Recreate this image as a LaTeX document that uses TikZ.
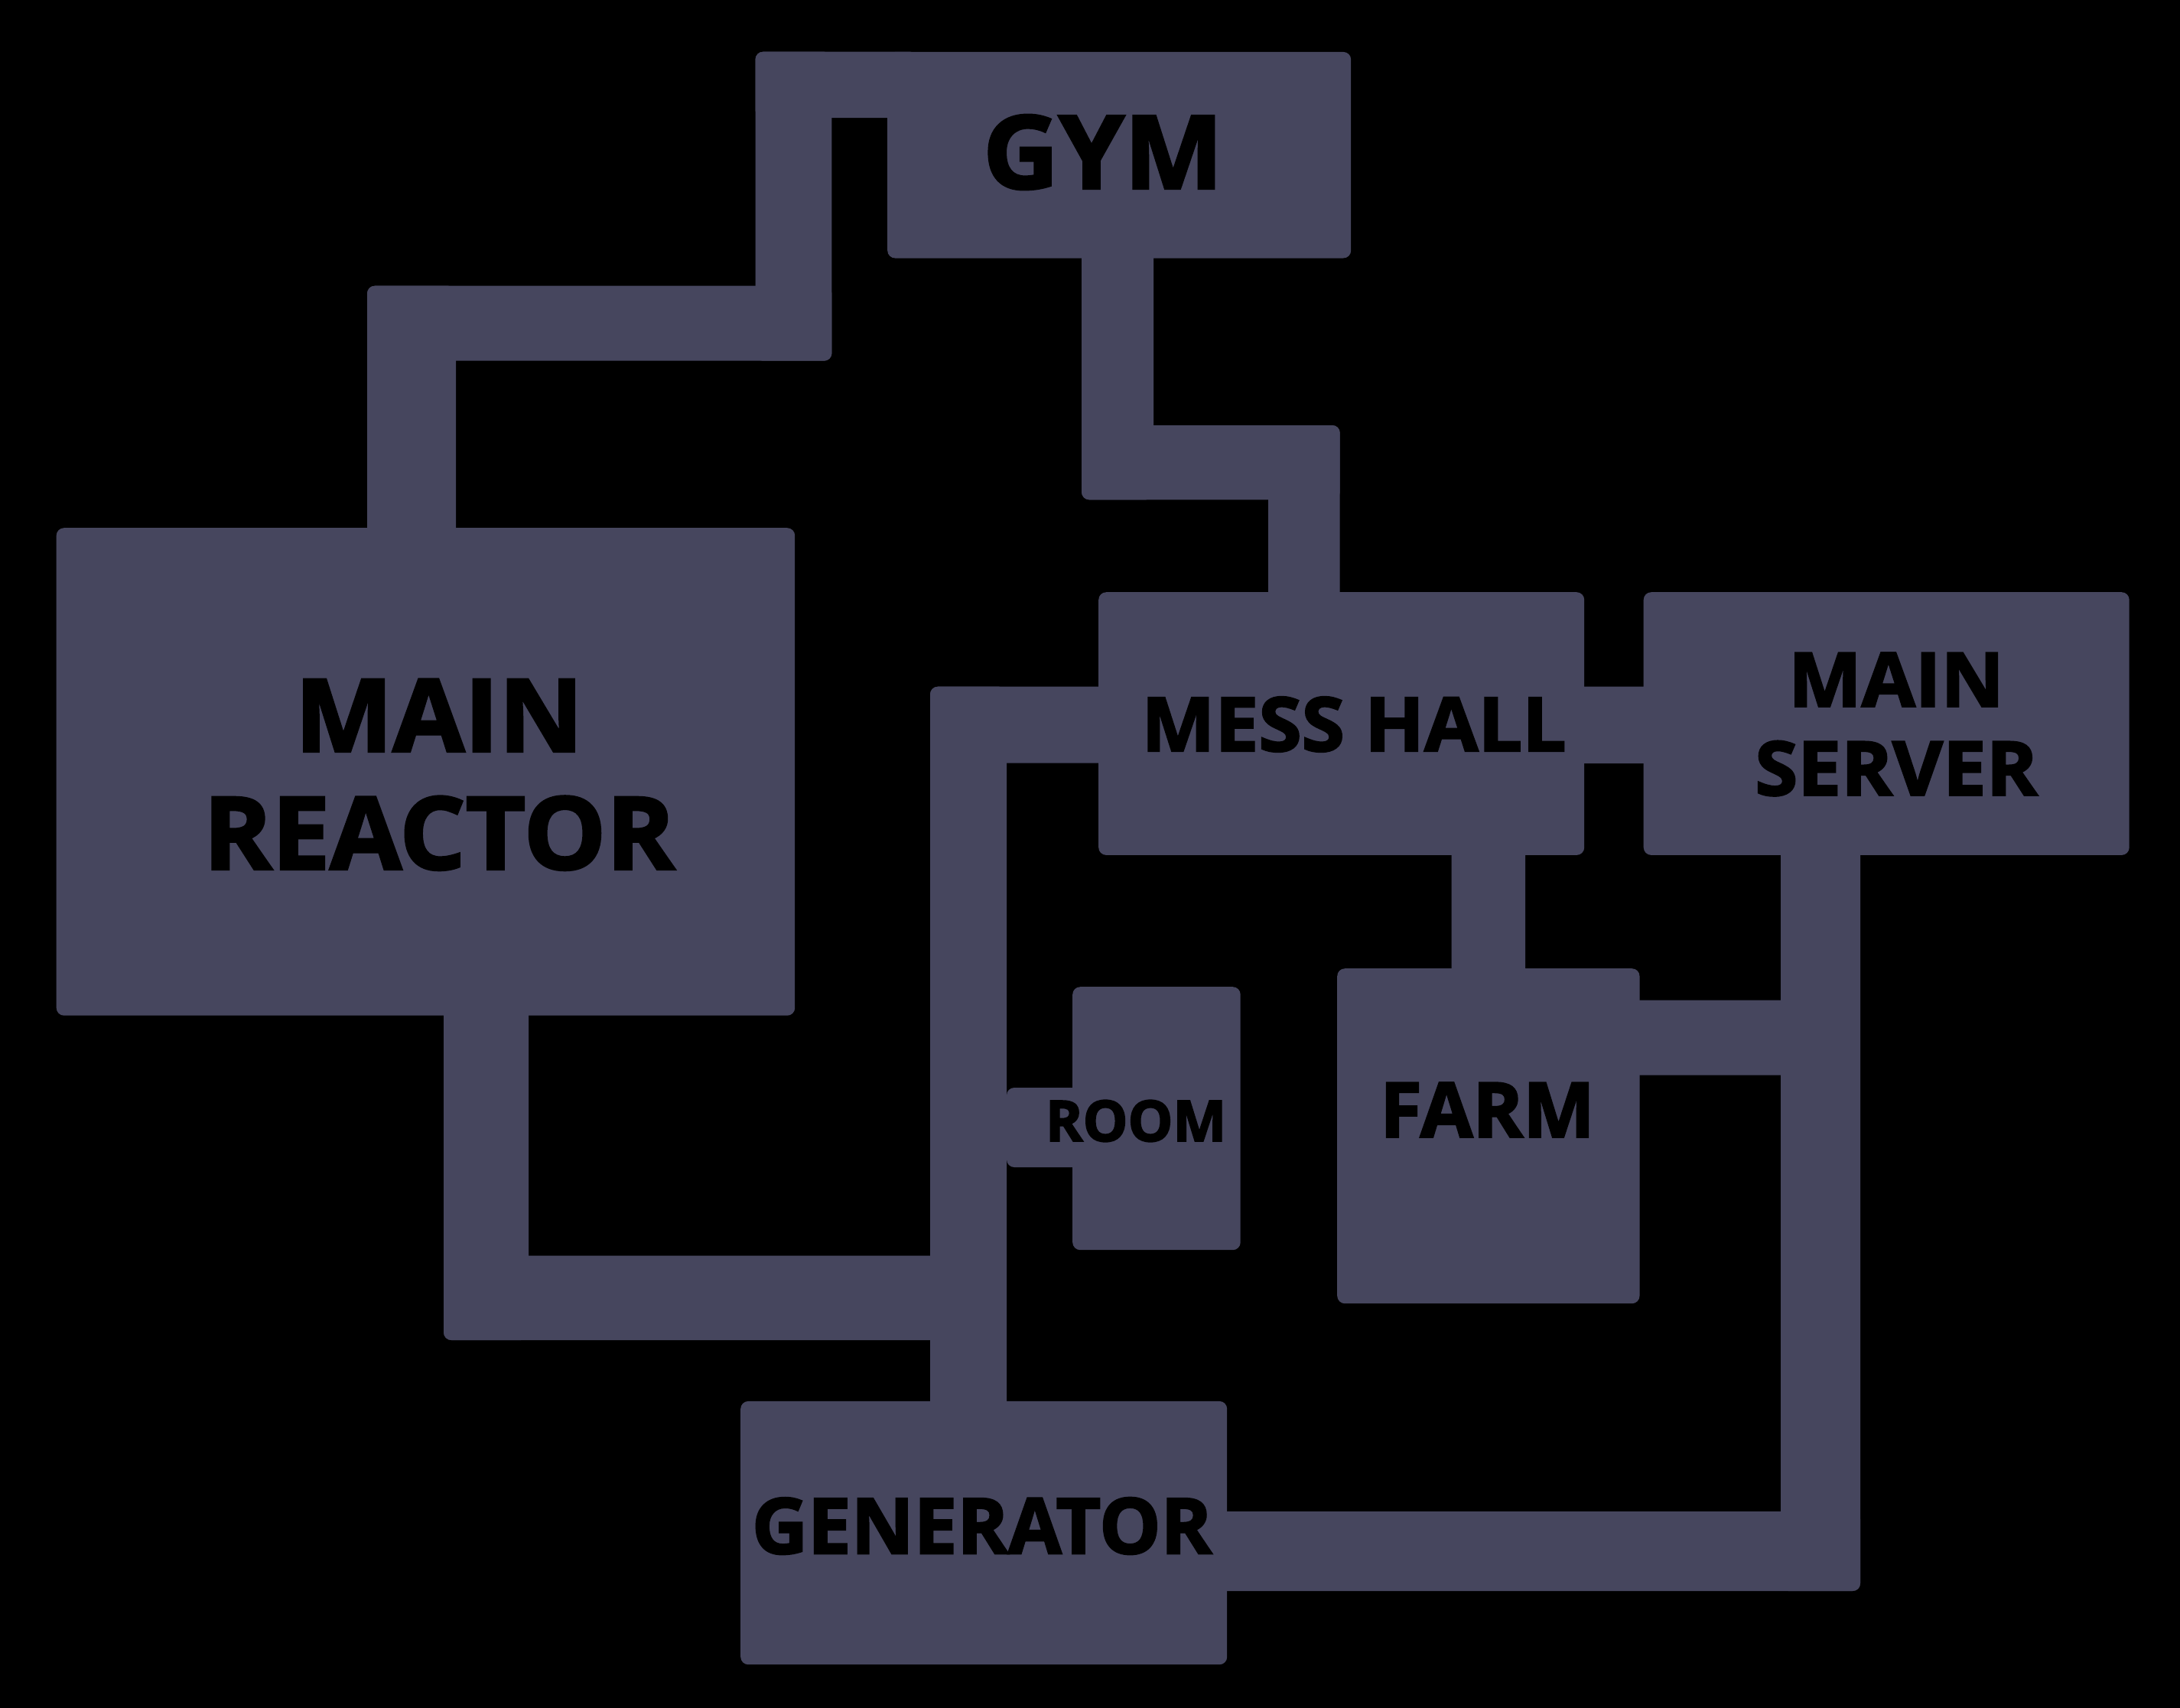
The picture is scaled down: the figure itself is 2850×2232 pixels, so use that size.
\documentclass[tikz,border=0pt]{standalone}
\usepackage{fontspec}
\newfontfamily\lab{Open Sans}[BoldFeatures={FakeBold=2.5}]
\definecolor{roomc}{RGB}{70,70,94}
\begin{document}
\begin{tikzpicture}[x=1pt,y=-1pt,
  room/.style={fill=roomc, rounded corners=10pt, inner sep=0pt, anchor=north west},
  hall/.style={fill=roomc, rounded corners=10pt},
  txt/.style={inner sep=0pt, text=black, align=center}]
\useasboundingbox (0,0) rectangle (2850,2232);
\fill[black] (-20,-20) rectangle (2870,2252);
% corridors
\fill[hall] (480,373.7) rectangle (596,710);
\fill[hall] (480,373.7) rectangle (1087.4,471.7);
\fill[hall] (987.5,67.7) rectangle (1087.4,471.7);
\fill[hall] (987.5,67.7) rectangle (1200,154);
\fill[hall] (1414,320) rectangle (1508,653.3);
\fill[hall] (1414,556) rectangle (1751.7,653.3);
\fill[hall] (1658,556) rectangle (1751.7,790);
\fill[hall] (1216,897.7) rectangle (1450,997.7);
\fill[hall] (1216,897.7) rectangle (1316,1850);
\fill[hall] (1316,1422) rectangle (1420,1526);
\fill[hall] (580,1310) rectangle (691,1752);
\fill[hall] (580,1641.7) rectangle (1230,1752);
\fill[hall] (2055,897.7) rectangle (2165,998);
\fill[hall] (1897.6,1100) rectangle (1994,1280);
\fill[hall] (2130,1307.7) rectangle (2340,1405.7);
\fill[hall] (2328,1100) rectangle (2432,2080);
\fill[hall] (1590,1976) rectangle (2432,2080);
% rooms
\node[room, minimum width=606pt, minimum height=269.6pt] (gym) at (1160,67.7) {};
\node[room, minimum width=965.5pt, minimum height=637.5pt] (reactor) at (73.5,690) {};
\node[room, minimum width=635pt, minimum height=343.7pt] (mess) at (1436,774) {};
\node[room, minimum width=635pt, minimum height=343.7pt] (server) at (2148.5,774) {};
\node[room, minimum width=219.5pt, minimum height=344pt] (room) at (1402,1290) {};
\node[room, minimum width=395.3pt, minimum height=438pt] (farm) at (1748,1266) {};
\node[room, minimum width=636pt, minimum height=344.3pt] (gen) at (968,1831.7) {};
% labels
\node[txt, font=\lab\bfseries\fontsize{133}{150}\selectfont\addfontfeature{FakeStretch=1.03}] (gymt) at (1442,199) {GYM};
\node[txt, font=\lab\bfseries\fontsize{131.7}{154}\selectfont\addfontfeature{FakeStretch=1.03}] (reactort) at (574,1012.8) {MAIN\\REACTOR};
\node[txt, font=\lab\bfseries\fontsize{98}{116}\selectfont\addfontfeature{FakeStretch=1.04}] (messt) at (1770,947) {MESS HALL};
\node[txt, font=\lab\bfseries\fontsize{98}{116}\selectfont\addfontfeature{FakeStretch=1.035}] (servert) at (2479,947) {MAIN\\SERVER};
\node[txt, font=\lab\bfseries\fontsize{74}{90}\selectfont] (roomt) at (1485,1465.5) {ROOM};
\node[txt, font=\lab\bfseries\fontsize{99.5}{120}\selectfont] (farmt) at (1944.5,1451) {FARM};
\node[txt, font=\lab\bfseries\fontsize{101}{120}\selectfont] (gent) at (1283.6,1995) {GENERATOR};
\end{tikzpicture}
\end{document}
